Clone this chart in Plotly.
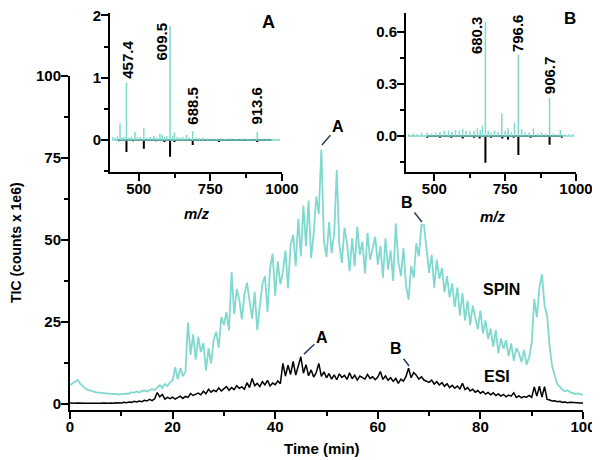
import plotly.graph_objects as go

# ---- main chromatogram (TIC, counts x 1e6), sampled every 0.5 min ----
TIME = [i * 0.5 for i in range(201)]

SPIN = [
    5.8, 6.3, 6.9, 7.3, 6.2, 5.3, 4.7, 4.3, 4.0, 3.8,
    3.6, 3.5, 3.4, 3.5, 3.3, 3.1, 3.2, 3.0, 3.1, 2.9,
    3.0, 3.1, 3.3, 3.2, 3.6, 3.4, 3.8, 3.5, 3.9, 4.1,
    3.8, 4.3, 4.6, 4.2, 5.0, 5.8, 4.9, 6.1, 5.5, 6.6,
    7.2, 11.2, 7.5, 11.0, 8.5, 9.8, 24.8, 15.0, 21.2, 13.5,
    20.5, 15.8, 18.6, 10.2, 17.0, 12.4, 19.5, 22.0, 17.2, 26.5,
    24.1, 28.0, 22.5, 40.2, 27.5, 35.0, 31.8, 25.8, 33.5, 37.0,
    31.5, 26.0, 34.2, 22.5, 29.8, 36.5, 39.0, 28.0, 41.5, 45.8,
    33.0, 43.5, 36.5, 40.2, 46.8, 35.2, 48.5, 51.5, 42.0, 56.5,
    45.0, 60.5, 48.0, 62.0, 44.5, 52.0, 63.2, 58.0, 77.6, 49.5,
    44.8, 55.5, 46.0, 52.0, 71.3, 48.5, 43.0, 53.8, 49.0, 40.5,
    50.5, 42.0, 54.0, 45.5, 49.5, 39.8, 52.2, 44.0, 47.5, 51.0,
    42.5, 48.2, 38.5, 50.5, 41.0, 46.8, 37.5, 55.0, 43.5, 39.0,
    47.5, 36.0, 31.8, 42.0, 38.5, 49.0, 45.0, 54.6, 54.5, 47.0,
    40.0, 45.5, 35.5, 44.0, 38.2, 41.5, 34.0, 39.0, 32.5, 36.8,
    29.5, 35.5, 27.0, 33.8, 25.5, 31.5, 24.0, 30.0, 26.5, 22.8,
    28.5, 21.5, 25.5, 19.8, 23.0, 17.5, 22.5, 15.5, 20.0, 16.8,
    19.5, 14.5, 18.5, 13.2, 17.0, 15.5, 12.8, 16.5, 12.0, 14.2,
    18.5, 32.0, 26.5, 35.5, 39.5, 30.0, 27.0, 17.5, 11.4, 9.0,
    6.0, 5.2, 4.3, 3.9, 4.2, 3.6, 3.3, 3.0, 3.2, 2.9,
    2.8,
]

ESI = [
    0.3, 0.2, 0.2, 0.3, 0.2, 0.1, 0.2, 0.2, 0.1, 0.2,
    0.2, 0.1, 0.2, 0.3, 0.2, 0.2, 0.3, 0.2, 0.4, 0.3,
    0.3, 0.5, 0.4, 0.6, 0.5, 0.8, 0.6, 0.9, 0.7, 1.1,
    0.9, 1.4, 1.0, 1.6, 3.5, 2.2, 2.9, 1.5, 2.0, 1.6,
    2.1, 1.5, 1.9, 2.4, 1.7, 2.3, 2.0, 3.2, 2.6, 3.0,
    3.3, 2.8, 3.9, 3.1, 4.5, 3.6, 4.2, 3.8, 4.9, 4.0,
    4.6, 5.3, 4.2, 5.0, 4.4, 5.6, 4.8, 5.2, 4.5, 6.5,
    5.0, 7.8, 5.6, 6.3, 5.3, 6.8, 5.8, 7.2, 5.5, 6.4,
    5.9, 7.0, 6.2, 12.4, 8.5, 11.8, 9.0, 13.0, 8.8, 11.5,
    14.4, 9.4, 12.0, 8.6, 10.4, 8.2, 9.6, 12.4, 8.4, 9.8,
    8.0, 9.3, 7.6, 8.9, 7.4, 9.2, 8.1, 8.7, 7.5, 9.5,
    7.7, 8.8, 7.3, 8.5, 8.0, 7.6, 9.0, 7.8, 8.3, 7.4,
    8.2, 9.9, 7.5, 8.6, 7.2, 8.0, 6.9, 7.8, 6.3, 7.6,
    7.0, 8.4, 10.9, 8.0, 9.6, 8.8, 7.6, 8.3, 7.3, 7.0,
    6.6, 7.3, 6.1, 6.8, 5.8, 6.5, 5.4, 6.2, 5.0, 5.7,
    4.8, 5.5, 4.6, 6.3, 4.4, 5.0, 4.0, 4.5, 3.6, 4.1,
    3.3, 3.8, 3.0, 3.5, 2.8, 3.4, 2.6, 3.1, 2.4, 2.9,
    2.2, 2.7, 2.4, 3.4, 2.0, 2.5, 1.9, 2.3, 2.1, 2.6,
    2.0, 5.2, 2.4, 5.4, 2.1, 5.3, 1.4, 1.2, 0.9, 1.0,
    0.7, 0.8, 0.5, 0.6, 0.4, 0.5, 0.4, 0.3, 0.4, 0.3,
    0.3,
]

# ---- inset A spectra (m/z, intensity) ----
A_SPIN_MZ = [410, 418, 426, 435, 442, 450, 457.4, 466, 475, 487, 495, 505, 518, 528,
             540, 553, 562, 574, 582, 590, 598, 609.5, 618, 625, 635, 645, 656, 667,
             676, 688.5, 700, 712, 725, 740, 755, 770, 785, 800, 820, 840, 860, 880,
             898, 913.6, 930, 950, 970, 990]
A_SPIN_I = [0.05, 0.03, 0.06, 0.27, 0.04, 0.05, 0.92, 0.04, 0.06, 0.13, 0.04, 0.05, 0.19, 0.04,
            0.05, 0.07, 0.04, 0.10, 0.08, 0.05, 0.06, 1.83, 0.06, 0.12, 0.05, 0.04, 0.05, 0.08,
            0.04, 0.14, 0.04, 0.03, 0.04, 0.03, 0.03, 0.02, 0.03, 0.02, 0.03, 0.02, 0.03, 0.02,
            0.03, 0.13, 0.02, 0.03, 0.02, 0.02]
A_ESI_MZ = [430, 457.4, 480, 518, 560, 590, 609.5, 625, 688.5, 730, 780, 850, 913.6, 960]
A_ESI_I = [-0.02, -0.19, -0.02, -0.14, -0.02, -0.03, -0.27, -0.03, -0.08, -0.01, -0.03, -0.01, -0.03, -0.01]
A_LABELS = ["457.4", "609.5", "688.5", "913.6"]

# ---- inset B spectra ----
B_SPIN_MZ = [410, 425, 440, 455, 475, 490, 505, 520, 535, 550, 562, 575, 588, 600, 612,
             625, 640, 652, 662, 670, 680.3, 690, 700, 712, 725, 738, 750, 760, 772, 783,
             796.6, 808, 820, 835, 850, 865, 878, 893, 906.7, 920, 935, 945, 960, 975, 990]
B_SPIN_I = [0.01, 0.015, 0.01, 0.02, 0.02, 0.015, 0.02, 0.025, 0.03, 0.03, 0.025, 0.035, 0.03, 0.04, 0.03,
            0.025, 0.03, 0.045, 0.035, 0.06, 0.66, 0.03, 0.02, 0.03, 0.025, 0.13, 0.03, 0.045, 0.02, 0.075,
            0.47, 0.04, 0.02, 0.02, 0.045, 0.015, 0.02, 0.015, 0.22, 0.015, 0.01, 0.035, 0.01, 0.01, 0.01]
B_ESI_MZ = [475, 520, 560, 600, 640, 660, 680.3, 700, 740, 760, 780, 796.6, 840, 906.7, 950]
B_ESI_I = [-0.01, -0.01, -0.01, -0.015, -0.01, -0.015, -0.155, -0.01, -0.015, -0.02, -0.01, -0.11, -0.01, -0.05, -0.01]
B_LABELS = ["680.3", "796.6", "906.7"]

TEAL = "#7fd9cf"
FONT = "Liberation Sans"
W, H = 600, 460
OFF = 8  # page body margin: the figure sits 8px in from the window corner


def sticks(mz, inten):
    # spectrum as a profile line: baseline -> peak -> baseline
    xs, ys = [], []
    for m, v in zip(mz, inten):
        xs += [m, m, m]
        ys += [0, v, 0]
    return xs, ys


def px(x):
    return (x - OFF) / W


def py(y):
    return 1 - (y - OFF) / H


fig = go.Figure()
fig.add_trace(go.Scatter(x=TIME, y=SPIN, mode="lines", line=dict(color=TEAL, width=1.8)))
fig.add_trace(go.Scatter(x=TIME, y=ESI, mode="lines", line=dict(color="black", width=1.5)))

for mz, inten, col, wd, ax in [(A_ESI_MZ, A_ESI_I, "black", 2, "2"), (A_SPIN_MZ, A_SPIN_I, TEAL, 1.5, "2"),
                               (B_ESI_MZ, B_ESI_I, "black", 2, "3"), (B_SPIN_MZ, B_SPIN_I, TEAL, 1.5, "3")]:
    xs, ys = sticks(mz, inten)
    fig.add_trace(go.Scatter(x=xs, y=ys, mode="lines", line=dict(color=col, width=wd),
                             xaxis="x" + ax, yaxis="y" + ax))

tickfont = dict(family=FONT, size=15, color="black", weight="bold")
minor = dict(ticks="outside", ticklen=4, tickwidth=2, tickcolor="black")
axcommon = dict(showgrid=False, zeroline=False, showline=True, linecolor="black", linewidth=2,
                ticks="outside", ticklen=7, tickwidth=2, tickcolor="black", tickfont=tickfont,
                automargin=False, ticklabeloverflow="allow")
xcommon = dict(ticklabelstandoff=-5, **axcommon)
ycommon = dict(ticklabelstandoff=-3, **axcommon)

fig.update_layout(
    width=W, height=H, autosize=False, margin=dict(l=0, r=0, t=0, b=0, pad=0),
    paper_bgcolor="white", plot_bgcolor="rgba(0,0,0,0)", showlegend=False,
    font=dict(family=FONT, color="black"),
    xaxis=dict(domain=[px(70), px(583)], range=[0, 100], tickvals=[0, 20, 40, 60, 80, 100],
               minor=dict(tickvals=[10, 30, 50, 70, 90], **minor), anchor="y", **xcommon),
    yaxis=dict(domain=[py(410), py(76)], range=[-1.83, 100], tickvals=[0, 25, 50, 75, 100],
               minor=dict(tickvals=[12.5, 37.5, 62.5, 87.5], **minor), anchor="x", **ycommon),
    xaxis2=dict(domain=[px(110), px(282)], range=[400, 1000], tickvals=[500, 750, 1000],
                minor=dict(tickvals=[625, 875], **minor), anchor="y2", **xcommon),
    yaxis2=dict(domain=[py(172), py(13)], range=[-0.513, 2.04], tickvals=[0, 1, 2],
                minor=dict(tickvals=[-0.5, 0.5, 1.5], **minor), anchor="x2", **ycommon),
    xaxis3=dict(domain=[px(406), px(576)], range=[400, 1000], tickvals=[500, 750, 1000],
                minor=dict(tickvals=[625, 875], **minor), anchor="y3", **xcommon),
    yaxis3=dict(domain=[py(172), py(13)], range=[-0.208, 0.711], tickvals=[0, 0.3, 0.6],
                ticktext=["0.0", "0.3", "0.6"],
                minor=dict(tickvals=[-0.15, 0.15, 0.45], **minor), anchor="x3", **ycommon),
)

bold = dict(family=FONT, size=16, color="black")
ann = []


def label(x, y, text, size=15, angle=0):
    return dict(xref="paper", yref="paper", x=px(x), y=py(y), text=text, textangle=angle,
                xanchor="center", yanchor="middle", showarrow=False, font=dict(family=FONT, size=size))


# axis titles
ann.append(label(16, 243, "<b>TIC (counts x 1e6)</b>", size=14, angle=-90))
ann.append(label(322, 448, "<b>Time (min)</b>"))
ann.append(label(197, 213, "<b><i>m/z</i></b>"))
ann.append(label(493, 217, "<b><i>m/z</i></b>"))
# inset letters
ann.append(label(268, 22, "<b>A</b>", size=18))
ann.append(label(570, 19, "<b>B</b>", size=17))
# trace names
ann.append(dict(x=84.2, y=34.8, text="<b>SPIN</b>", showarrow=False, font=bold,
                xanchor="center", yanchor="middle"))
ann.append(dict(x=83.2, y=8.5, text="<b>ESI</b>", showarrow=False, font=bold,
                xanchor="center", yanchor="middle"))
# peak markers on the chromatograms
for x, y, axo, ayo in [(49.1, 79, 16, -18), (45.6, 15.2, 18, -17)]:
    ann.append(dict(x=x, y=y, text="<b>A</b>", showarrow=True, arrowhead=0, arrowwidth=1.5,
                    ax=axo, ay=ayo, standoff=0, font=bold))
for x, y, axo, ayo in [(68.6, 55.5, -15, -19), (66.1, 11.6, -13, -17)]:
    ann.append(dict(x=x, y=y, text="<b>B</b>", showarrow=True, arrowhead=0, arrowwidth=1.5,
                    ax=axo, ay=ayo, standoff=0, font=bold))
# rotated m/z labels in the insets
for lab, x, y in zip(A_LABELS, [463, 581, 689, 912], [1.29, 1.58, 0.55, 0.55]):
    ann.append(dict(xref="x2", yref="y2", x=x, y=y, text="<b>%s</b>" % lab, textangle=-90,
                    xanchor="center", yanchor="middle", showarrow=False, font=dict(family=FONT, size=15)))
for lab, x, y in zip(B_LABELS, [651, 792, 909], [0.584, 0.595, 0.353]):
    ann.append(dict(xref="x3", yref="y3", x=x, y=y, text="<b>%s</b>" % lab, textangle=-90,
                    xanchor="center", yanchor="middle", showarrow=False, font=dict(family=FONT, size=15)))

fig.update_layout(annotations=ann)
fig.write_html("out.html")
